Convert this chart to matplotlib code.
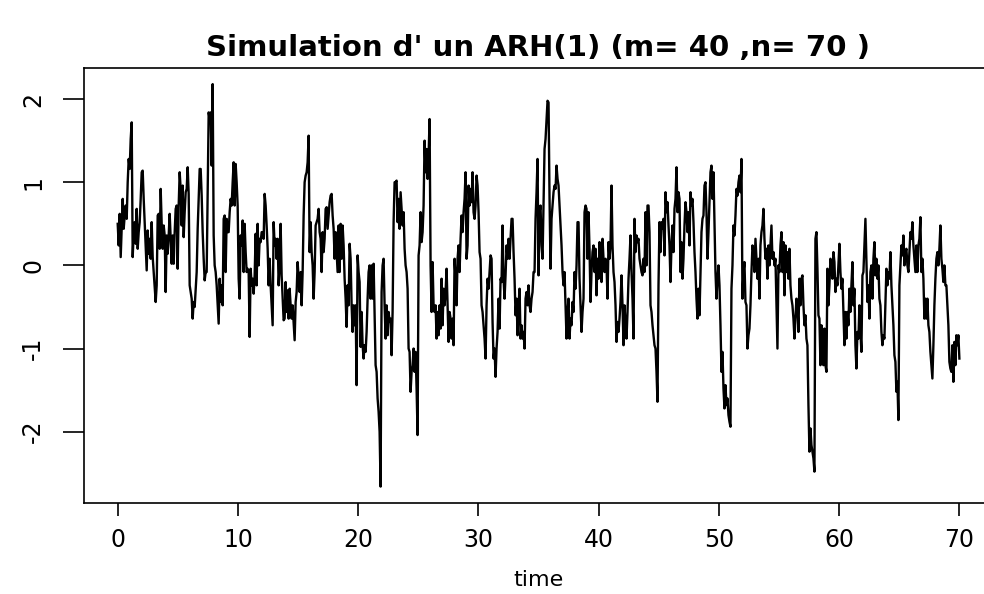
import numpy as np
import matplotlib
matplotlib.use("Agg")
import matplotlib.pyplot as plt

# ARH(1) path, m = 40 points per unit, n = 70 units, read in nine consecutive stretches
seg1 = [0.50, 0.24, 0.62, 0.10, 0.44, 0.80, 0.44, 0.60, 0.72, 0.56,
        1.00, 1.28, 1.16, 1.52, 1.72, 0.10, 0.40, 0.52, 0.26, 0.68,
        0.20, 0.40, 0.52, 0.80, 1.12, 1.14, 0.80, 0.52, 0.24, -0.06,
        0.42, 0.14, 0.32, 0.08, 0.52, 0.10, -0.08, -0.24, -0.44, -0.24,
        0.60, 0.62, 0.20, 0.92, 0.50, 0.20, 0.48, 0.36, -0.32, 0.36,
        0.14, 0.36, 0.62, 0.32, 0.02, 0.36, 0.02, 0.40, 0.68, 0.72,
        -0.04, 0.72, 1.12, 0.92, 0.48, 0.96, 0.34, 0.64, 0.88, 0.92,
        1.18, 0.86, -0.24, -0.32, -0.40, -0.64, -0.44, -0.50, -0.28, -0.08,
        0.44, 0.80, 1.16, 1.16, 0.84, 0.40, 0.08, -0.18, -0.08]
seg2 = [-0.08, 0.92, 1.84, 1.76, 1.84, 1.20, 2.18, 0.36, 0.00, -0.08,
        -0.24, -0.48, -0.70, -0.16, -0.44, -0.24, -0.48, 0.56, 0.60, -0.08,
        0.56, 0.40, 0.40, 0.64, 0.80, 0.72, 1.00, 1.24, 0.72, 1.22,
        1.00, 0.72, -0.16, -0.40, 0.36, 0.24, 0.54, -0.08, 0.50, 0.16,
        -0.08, -0.04, -0.08, -0.86, -0.04, -0.24, -0.16, -0.34, -0.12, 0.38,
        -0.24, 0.50, 0.00, 0.32, 0.28, 0.40, 0.40, 0.32, 0.86, 0.72,
        0.48, 0.20, -0.24, 0.08, -0.24, -0.48, -0.72, 0.52, 0.24, 0.32,
        0.08, 0.32, -0.24, 0.00, 0.50, -0.12, -0.40, -0.66, -0.64, -0.20,
        -0.56, -0.30, -0.64, -0.28, -0.48, -0.64, -0.48, -0.68, -0.90, -0.44,
        -0.32, 0.04, -0.16, -0.32, -0.08]
seg3 = [-0.48, -0.08, 0.60, 1.00, 1.08, 1.12, 1.24, 1.56, 0.16, 0.52,
        0.16, 0.00, -0.40, -0.08, 0.48, 0.52, 0.56, 0.68, 0.40, 0.32,
        -0.08, 0.40, 0.16, 0.32, 0.68, 0.70, 0.44, 0.60, 0.76, 0.84,
        0.86, 0.60, 0.44, 0.08, 0.40, 0.16, -0.08, 0.48, -0.08, 0.50,
        0.08, 0.48, 0.24, -0.16, -0.40, -0.74, -0.24, -0.48, 0.26, 0.08,
        -0.48, -0.80, -0.48, -0.72, -0.48, -1.44, 0.12, -0.08, -0.20, -0.98,
        -0.56, -0.96, -1.12, -0.96, -1.04, -0.80, -0.40, -0.08, 0.00, -0.40,
        0.00, -0.40, 0.02, -0.56, -1.20, -1.28, -1.60, -1.76, -2.00, -2.66,
        -0.32, 0.00, 0.08, -0.48, -0.88, -0.48, -0.84, -0.56, -0.68, -0.64,
        -1.08, -0.56, 0.52, 1.00, 1.00]
seg4 = [1.02, 0.52, 0.80, 0.44, 0.88, 0.68, 0.48, 0.64, 0.20, 0.00,
        -0.08, -0.28, -1.00, -1.04, -1.52, -1.28, -1.20, -1.00, -1.28, -1.04,
        -1.48, -2.04, 0.12, 0.24, 0.64, 0.28, 0.40, 0.72, 1.50, 1.12,
        1.40, 1.04, 1.32, 1.76, 0.00, -0.56, 0.04, -0.48, -0.56, -0.48,
        -0.88, -0.56, -0.84, -0.48, -0.76, -0.16, -0.72, -0.28, -0.48, -0.32,
        -0.04, -0.48, -0.92, -0.56, -0.64, -0.88, -0.64, -0.96, 0.08, -0.16,
        -0.48, 0.08, 0.24, -0.08, 0.32, 0.60, 0.40, 0.64, 0.80, 1.12,
        0.08, 0.24, 0.96, 0.72, 0.92, 0.76, 1.12, 0.64, 0.56, 0.72,
        1.08, 0.96, 0.64, 0.16, 0.08, -0.48, -0.56, -0.72, -0.88, -1.12,
        -0.48, -0.16, -0.28, -0.08, 0.12]
seg5 = [0.08, -0.68, -1.12, -1.00, -1.34, -1.00, -0.80, -0.40, -0.76, -0.16,
        -0.20, 0.48, -0.16, -0.40, -0.12, 0.24, 0.08, 0.32, 0.08, 0.32,
        0.56, 0.56, 0.16, -0.16, -0.60, -0.40, -0.84, -0.48, -0.28, -0.88,
        -0.72, -0.88, -0.80, -1.00, -0.40, -0.32, -0.48, -0.24, -0.48, -0.56,
        -0.40, -0.32, -0.08, -0.08, 0.56, 0.88, 1.28, -0.12, 0.64, 0.72,
        0.24, 0.08, 0.72, 1.40, 1.52, 1.76, 1.98, 1.96, 0.80, -0.04,
        0.56, 0.72, 0.88, 0.96, 0.92, 1.20, 1.04, 0.96, 0.72, 0.48,
        0.24, -0.08, -0.24, -0.08, -0.48, -0.88, -0.56, -0.40, -0.88, -0.64,
        -0.72, -0.44, -0.56, -0.08, -0.28, 0.00, 0.52, 0.52, -0.16, -0.48,
        -0.80, -0.56, -0.40, 0.64, 0.72]
seg6 = [0.68, 0.08, 0.64, 0.20, -0.44, -0.08, 0.16, 0.24, -0.08, 0.20,
        -0.36, 0.08, -0.16, 0.28, 0.00, -0.20, 0.32, 0.08, -0.08, 0.08,
        0.00, -0.40, 0.28, 0.08, 0.24, 0.96, 0.24, -0.08, -0.20, -0.48,
        -0.92, -0.68, -0.80, -0.64, -0.44, -0.12, -0.48, -0.96, -0.48, -0.72,
        -0.88, -0.56, -0.16, 0.08, 0.36, -0.08, -0.40, -0.88, 0.56, 0.16,
        0.36, 0.28, 0.32, 0.08, 0.00, -0.08, -0.12, 0.08, -0.08, 0.64,
        0.00, 0.72, 0.72, 0.40, -0.48, -0.56, -0.72, -0.84, -0.96, -1.00,
        -1.28, -1.64, -0.24, 0.52, 0.16, 0.52, 0.44, 0.56, 0.12, 0.88,
        0.64, 0.76, 0.48, 0.24, -0.20, 0.24, 0.48, 0.16, 0.68, 0.80,
        1.18, 0.64, 0.88, 0.80, -0.08]
seg7 = [0.28, -0.16, 0.08, 0.48, 0.76, 0.64, 0.40, 0.64, 0.24, 0.88,
        0.72, 0.80, 0.52, 0.16, -0.08, -0.40, -0.64, -0.28, -0.60, -0.08,
        0.40, 0.56, 0.60, 0.96, 1.00, 0.64, 0.08, 0.40, 0.76, 1.12,
        1.20, 0.80, 1.12, 0.52, -0.08, -0.40, -0.16, 0.00, -0.24, -0.72,
        -1.28, -1.04, -1.48, -1.72, -1.44, -1.68, -1.60, -1.80, -1.88, -1.94,
        -0.28, 0.00, 0.48, 0.36, 0.60, 0.92, 0.84, 1.00, 1.08, 0.88,
        1.28, -0.40, -0.08, 0.04, -0.44, -0.48, -1.00, -0.84, -0.76, -0.48,
        -0.08, 0.24, 0.16, -0.08, 0.32, 0.08, -0.16, 0.08, -0.40, 0.24,
        0.40, 0.48, 0.68, 0.32, 0.08, 0.20, -0.16, 0.24, 0.00, 0.24,
        0.48, 0.08, 0.16, 0.00, 0.08]
seg8 = [-0.48, -1.00, 0.00, -0.08, 0.24, 0.40, -0.08, 0.28, -0.36, 0.24,
        -0.08, 0.16, -0.16, 0.20, -0.24, -0.40, -0.48, -0.64, -0.88, -0.64,
        -0.40, -0.48, -0.80, -0.16, -0.48, -0.16, -0.12, -0.48, -0.72, -0.60,
        -0.88, -0.96, -1.68, -2.24, -1.96, -2.16, -2.24, -2.32, -2.48, 0.32,
        0.40, -0.04, -0.60, -0.64, -1.20, -0.72, -1.00, -1.20, -0.76, -1.20,
        -1.28, -0.04, -0.48, -0.24, 0.08, 0.00, -0.16, 0.16, 0.04, -0.32,
        -0.16, -0.24, 0.00, 0.26, -0.08, -0.28, -0.16, -0.56, -0.96, -0.56,
        -0.88, -0.56, -0.72, -0.28, -0.56, -0.24, 0.04, -0.48, -0.28, -0.96,
        -1.24, -0.80, -0.88, -0.48, -0.80, -1.04, -0.12, -0.08, 0.24, 0.56,
        0.08, -0.44, -0.24, -0.64, -0.08]
seg9 = [0.00, -0.40, 0.08, 0.28, -0.12, 0.08, -0.16, 0.00, -0.40, -0.48,
        -0.80, -0.96, -0.84, -0.88, -0.48, -0.04, -0.24, -0.08, -0.16, 0.16,
        -0.24, -0.48, -0.72, -1.08, -1.16, -1.52, -1.40, -1.86, -0.24, 0.00,
        0.24, 0.12, 0.36, 0.00, 0.16, 0.20, 0.00, -0.08, 0.16, 0.40,
        0.32, 0.52, 0.24, 0.08, -0.08, 0.24, -0.08, 0.24, 0.32, 0.58,
        -0.08, 0.08, -0.16, -0.64, -0.40, -0.64, -0.40, -0.72, -0.80, -1.04,
        -1.20, -1.36, -0.96, -0.48, -0.16, 0.08, 0.16, 0.00, 0.20, 0.48,
        0.08, -0.04, -0.20, 0.00, -0.24, -0.24, -0.48, -0.72, -1.16, -1.24,
        -1.28, -0.96, -1.40, -0.92, -1.20, -0.84, -0.96, -0.84, -1.12]

m, n = 40, 70
values = np.array(seg1 + seg2 + seg3 + seg4 + seg5 + seg6 + seg7 + seg8 + seg9)
time = np.linspace(0, n, len(values))

xticks = [0, 10, 20, 30, 40, 50, 60, 70]
yticks = [-2, -1, 0, 1, 2]

plt.rcParams["font.family"] = ["DejaVu Sans"]

fig = plt.figure(figsize=(9.84, 5.94), dpi=100)
ax = fig.add_axes([0.0854, 0.1537, 0.9238, 0.7318])
ax.plot(time, values, color="black", linewidth=1.7)

# R-style 4% padding on both axes
ax.margins(x=0.04, y=0.04)
ax.set_xticks(xticks)
ax.set_yticks(yticks)
ax.set_yticklabels([str(v) for v in yticks], rotation=90, va="center")
ax.tick_params(axis="x", length=9, width=1.2, pad=9, labelsize=17)
ax.tick_params(axis="y", length=15, width=1.2, pad=13, labelsize=17)
for side in ax.spines.values():
    side.set_linewidth(1.2)

ax.set_xlabel("time", fontsize=16, labelpad=13)
fig.text(0.547, 0.919, "Simulation d' un ARH(1) (m= %d ,n= %d )" % (m, n),
         ha="center", va="center", fontsize=21, fontweight="bold")

fig.savefig("out.png", dpi=100)
